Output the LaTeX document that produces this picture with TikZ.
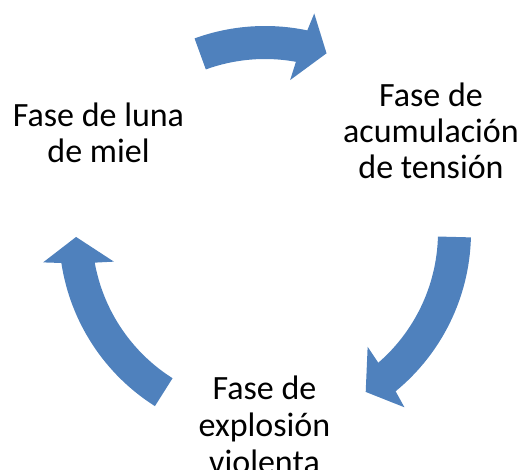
\documentclass[tikz,border=0pt]{standalone}
\usepackage{fontspec}
\setmainfont{Carlito}
\definecolor{arrowblue}{HTML}{4F81BD}
\tikzset{
  label/.style={align=center, anchor=base, inner sep=0pt, font=\fontsize{34pt}{36pt}\selectfont, text=black},
}
% #1 tail angle, #2 tip angle (clockwise arrow)
\newcommand{\cycarrow}[2]{%
  \fill[arrowblue]
    ([shift={(C)}]#1:206pt) arc[start angle=#1, end angle=#2+7.15, radius=206pt]
    -- ([shift={(C)}]#2+6.3:224pt)
    -- ([shift={(C)}]#2:189pt)
    -- ([shift={(C)}]#2+9.6:154pt)
    -- ([shift={(C)}]#2+8.7:173pt)
    arc[start angle=#2+8.7, end angle=#1, radius=173pt]
    -- cycle;}
\begin{document}
\begin{tikzpicture}[x=1pt,y=1pt]
\useasboundingbox (0,0) rectangle (522,-470);
\coordinate (C) at (265,-232);
\cycarrow{110}{71}
\cycarrow{-1.5}{-57.8}
\cycarrow{237.7}{181.5}
\node[label] (luna) at (98.5,-163) {Fase de luna\\de miel};
\node[label] (tension) at (431,-179) {Fase de\\acumulación\\de tensión};
\node[label, font=\fontsize{34pt}{37pt}\selectfont] (explosion) at (264.5,-473) {Fase de\\explosión\\violenta};
\end{tikzpicture}
\end{document}
